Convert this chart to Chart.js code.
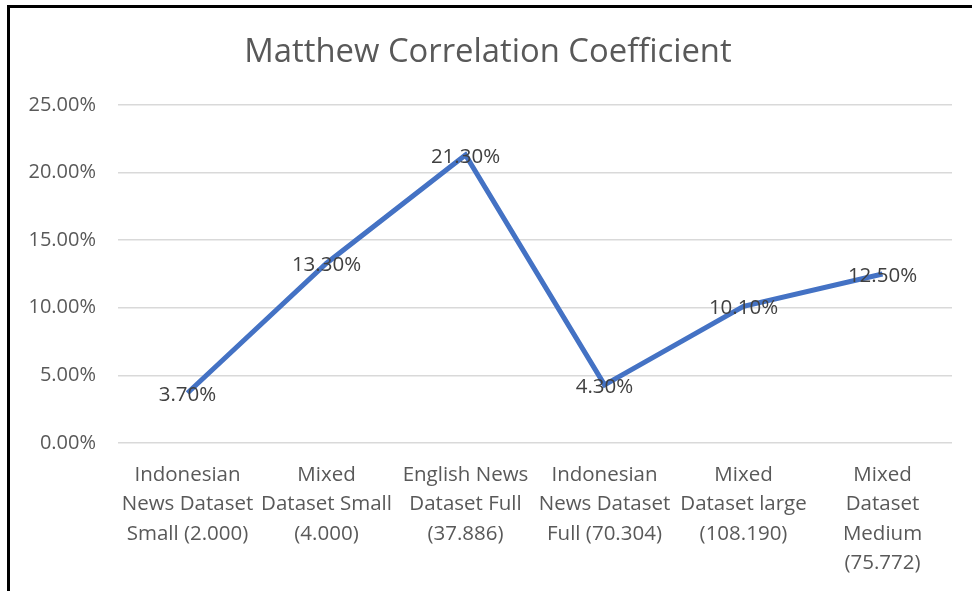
<!DOCTYPE html>
<html>
<head>
<meta charset="utf-8">
<script src="https://cdn.jsdelivr.net/npm/chart.js@4.4.1/dist/chart.umd.min.js"></script>
<style>
  body { margin: 0; background: #fff; overflow: hidden; }
  #frame { position: absolute; left: 7px; top: 5px; width: 990px; height: 600px;
           border-left: 3px solid #000; border-top: 3px solid #000; }
  #wrap { position: absolute; left: 0; top: 0; width: 972px; height: 591px; }
</style>
</head>
<body>
<div id="frame"></div>
<div id="wrap"><canvas id="lineChart"></canvas></div>
<script>
// dataset names (x-axis tick labels, one entry per line)
const datasetNames = [
    ['Indonesian', 'News Dataset', 'Small (2.000)'],
    ['Mixed', 'Dataset Small', '(4.000)'],
    ['English News', 'Dataset Full', '(37.886)'],
    ['Indonesian', 'News Dataset', 'Full (70.304)'],
    ['Mixed', 'Dataset large', '(108.190)'],
    ['Mixed', 'Dataset', 'Medium', '(75.772)']
];

// MCC in percent
const mccValues = [3.7, 13.3, 21.3, 4.3, 10.1, 12.5];

const chartTitle = 'Matthew Correlation Coefficient';

const fontName = '"Open Sans", "Noto Sans", sans-serif';

// draws the value on top of each point
const pointLabels = {
    id: 'pointLabels',
    afterDatasetsDraw(chart) {
        const ctx = chart.ctx;
        const meta = chart.getDatasetMeta(0);
        ctx.save();
        ctx.font = '20.5px ' + fontName;
        ctx.fillStyle = '#404040';
        ctx.textAlign = 'center';
        ctx.textBaseline = 'middle';
        meta.data.forEach((pt, i) => {
            ctx.fillText(mccValues[i].toFixed(2) + '%', pt.x, pt.y + 2);
        });
        ctx.restore();
    }
};

let StartFunc = () => {
    const ctx = document.getElementById('lineChart');

    new Chart(ctx, {
        type: 'line',
        data: {
            labels: datasetNames,
            datasets: [{
                label: 'MCC',
                data: mccValues,
                borderColor: '#4472C4',
                borderWidth: 5,
                pointRadius: 0,
                pointHoverRadius: 0,
                tension: 0,
                fill: false
            }]
        },
        options: {
            responsive: true,
            maintainAspectRatio: false,
            animation: false,
            layout: {
                padding: { left: 24, right: 20, top: 0, bottom: 0 }
            },
            plugins: {
                legend: { display: false },
                tooltip: { enabled: false },
                title: {
                    display: true,
                    text: chartTitle,
                    color: '#595959',
                    font: { family: fontName, size: 32.8, weight: 'normal', lineHeight: 1.2 },
                    padding: { top: 33, bottom: 32.6 }
                }
            },
            scales: {
                x: {
                    offset: true,
                    grid: { display: false },
                    border: { display: false },
                    ticks: {
                        color: '#595959',
                        font: { family: fontName, size: 20.5, lineHeight: 1.44 },
                        padding: 9,
                        maxRotation: 0,
                        autoSkip: false
                    },
                    afterFit: (scale) => { scale.height = 148; }
                },
                y: {
                    min: 0,
                    max: 25,
                    grid: { color: '#d9d9d9', lineWidth: 1.5, drawTicks: false },
                    border: { display: false },
                    ticks: {
                        stepSize: 5,
                        color: '#595959',
                        font: { family: fontName, size: 20 },
                        padding: 22,
                        callback: (v) => v.toFixed(2) + '%'
                    },
                    afterFit: (scale) => { scale.width = 94; }
                }
            }
        },
        plugins: [pointLabels]
    });
};

StartFunc();
</script>
</body>
</html>
